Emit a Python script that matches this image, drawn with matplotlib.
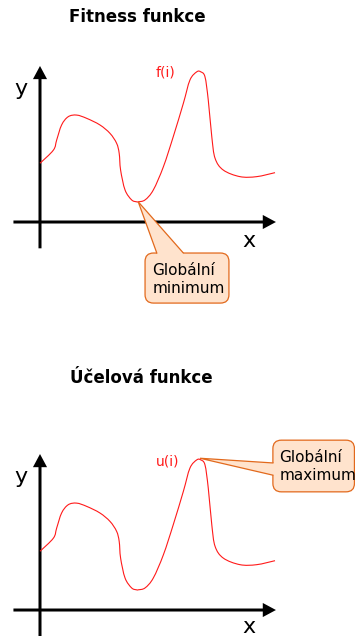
import numpy as np
import matplotlib
matplotlib.use("Agg")
import matplotlib.pyplot as plt
from matplotlib.path import Path
from matplotlib.patches import PathPatch, FancyBboxPatch, Polygon

# curve, same shape in both panels (origin = axis crossing)
curve_x = [0, 0.57, 0.71, 0.92, 1.20, 1.56, 1.99, 2.55, 2.98, 3.26, 3.37, 3.43,
           3.62, 3.90, 4.11, 4.18, 4.47, 4.82, 5.25, 5.67, 6.10, 6.38, 6.67,
           6.84, 7.02, 7.16, 7.31, 7.45, 7.80, 8.51, 9.22, 10.0]
curve_y = [2.50, 3.06, 3.49, 4.13, 4.48, 4.55, 4.41, 4.13, 3.77, 3.35, 2.92, 2.21,
           1.36, 0.94, 0.86, 0.86, 0.94, 1.36, 2.35, 3.63, 5.05, 6.04, 6.39,
           6.39, 6.18, 5.19, 3.63, 2.71, 2.21, 1.93, 1.93, 2.10]

titles = ["Fitness funkce", "Účelová funkce"]
func_labels = ["f(i)", "u(i)"]
callout_lines = [["Globální", "minimum"], ["Globální", "maximum"]]

FILL = "#ffe3cd"
EDGE = "#e2691c"


def smooth_path(x, y):
    pts = np.column_stack([x, y])
    verts = [pts[0]]
    codes = [Path.MOVETO]
    n = len(pts)
    for i in range(n - 1):
        p0 = pts[max(i - 1, 0)]
        p1 = pts[i]
        p2 = pts[i + 1]
        p3 = pts[min(i + 2, n - 1)]
        verts += [p1 + (p2 - p0) / 6, p2 - (p3 - p1) / 6, p2]
        codes += [Path.CURVE4] * 3
    return Path(verts, codes)


def draw_axes(ax, y_bottom, x_label_y):
    kw = dict(width=0.128, head_width=0.6, head_length=0.56,
              length_includes_head=True, fc="black", ec="none", zorder=2)
    ax.arrow(0, y_bottom, 0, 6.64 - y_bottom, **kw)
    ax.arrow(-1.13, 0, 11.17, 0, **kw)
    ax.text(-0.83, 5.40, "y", fontsize=16, ha="center", va="baseline")
    ax.text(8.89, x_label_y, "x", fontsize=16, ha="center", va="baseline")


def callout(ax, box, tip, base, lines, tx, ty):
    x0, y0, x1, y1 = box
    ax.add_patch(FancyBboxPatch((x0, y0), x1 - x0, y1 - y0,
                                boxstyle="round,pad=0,rounding_size=0.36",
                                fc=FILL, ec=EDGE, lw=0.9, zorder=4))
    tip = np.array(tip)
    b0 = tip + (np.array(base[0]) - tip) * 1.07
    b1 = tip + (np.array(base[1]) - tip) * 1.07
    ax.add_patch(Polygon([tip, b0, b1], closed=True, fc=FILL, ec="none", zorder=5))
    ax.plot([base[0][0], tip[0], base[1][0]], [base[0][1], tip[1], base[1][1]],
            color=EDGE, lw=0.9, zorder=6, solid_joinstyle="miter")
    for k, line in enumerate(lines):
        ax.text(tx, ty[k], line, fontsize=11, ha="left", va="baseline", zorder=7)


fig = plt.figure(figsize=(3.55, 6.36), dpi=100)
ax1 = fig.add_axes([0, 0.5, 1, 0.5])
ax2 = fig.add_axes([0, 0, 1, 0.5])
ax1.set_xlim(-1.702, 13.404)
ax1.set_ylim(-4.085, 9.447)
ax2.set_xlim(-1.702, 13.404)
ax2.set_ylim(-1.106, 12.43)

for ax in (ax1, ax2):
    ax.axis("off")
    ax.add_patch(PathPatch(smooth_path(curve_x, curve_y), fc="none",
                           ec="#ff1a1a", lw=0.8, zorder=3))

# top panel
draw_axes(ax1, -1.12, -1.06)
ax1.text(4.15, 8.52, titles[0], fontsize=12, fontweight="bold",
         ha="center", va="baseline")
ax1.text(5.32, 6.21, func_labels[0], fontsize=10, color="#ff1a1a",
         ha="center", va="baseline")
callout(ax1, (4.47, -3.45, 8.04, -1.32), (4.18, 0.86),
        [(4.97, -1.32), (6.10, -1.32)], callout_lines[0], 4.79, [-2.26, -3.02])

# bottom panel
draw_axes(ax2, -1.3, -0.96)
ax2.text(4.29, 9.65, titles[1], fontsize=12, fontweight="bold",
         ha="center", va="baseline")
ax2.text(5.43, 6.17, func_labels[1], fontsize=10, color="#ff1a1a",
         ha="center", va="baseline")
callout(ax2, (9.91, 5.03, 13.38, 7.23), (6.81, 6.46),
        [(9.91, 6.26), (9.91, 5.74)], callout_lines[1], 10.19, [6.31, 5.53])

fig.savefig("out.png", dpi=100)
